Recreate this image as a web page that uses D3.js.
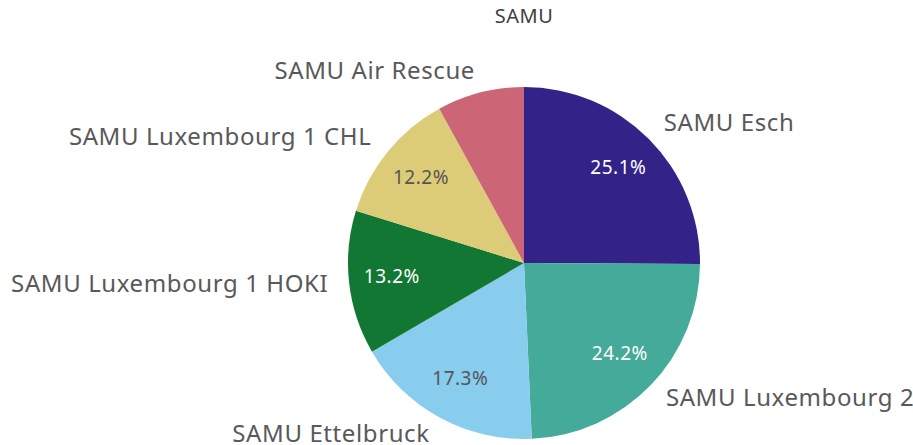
<!DOCTYPE html>
<html>
<head>
<meta charset="utf-8">
<script src="https://cdn.jsdelivr.net/npm/d3@7"></script>
<style>
  body { margin: 0; background: #fff; }
  svg { display: block; font-family: "Noto Sans", Roboto, sans-serif; }
</style>
</head>
<body>
<svg id="chart"></svg>
<script>
// Data (percent of total)
const categories = ["SAMU Esch", "SAMU Luxembourg 2", "SAMU Ettelbruck", "SAMU Luxembourg 1 HOKI", "SAMU Luxembourg 1 CHL", "SAMU Air Rescue"];
const values = [25.1, 24.2, 17.3, 13.2, 12.2, 8.0];
const colors = ["#332288", "#44aa99", "#88ccee", "#117733", "#ddcc77", "#cc6677"];
const labelColors = ["#ffffff", "#ffffff", "#555555", "#ffffff", "#555555", "#ffffff"];
const title = "SAMU";

const width = 913, height = 445;
const cx = 524, cy = 263, radius = 176;

const svg = d3.select("#chart")
    .attr("width", width)
    .attr("height", height);

// Title
svg.append("text")
    .attr("x", cx)
    .attr("y", 18)
    .attr("text-anchor", "middle")
    .attr("dominant-baseline", "middle")
    .style("font-size", "20px")
    .style("letter-spacing", "0.5px")
    .style("fill", "#404040")
    .text(title);

const data = categories.map((c, i) => ({ name: c, value: values[i], color: colors[i], lc: labelColors[i] }));

const pie = d3.pie().value(d => d.value).sort(null);
const arcs = pie(data);

const arc = d3.arc().innerRadius(0).outerRadius(radius);
const innerLabelArc = d3.arc().innerRadius(133).outerRadius(133);
const outerLabelArc = d3.arc().innerRadius(197).outerRadius(197);

const g = svg.append("g")
    .attr("transform", `translate(${cx},${cy})`);

g.selectAll("path.slice")
    .data(arcs)
    .join("path")
    .attr("class", "slice")
    .attr("d", arc)
    .attr("fill", d => d.data.color);

// Percent labels inside (small slices get none)
g.selectAll("text.pct")
    .data(arcs.filter(d => d.data.value >= 10))
    .join("text")
    .attr("class", "pct")
    .attr("transform", d => `translate(${innerLabelArc.centroid(d)})`)
    .attr("text-anchor", "middle")
    .attr("dominant-baseline", "middle")
    .style("font-size", "19px")
    .style("letter-spacing", "0.5px")
    .style("fill", d => d.data.lc)
    .text(d => d.data.value.toFixed(1) + "%");

// Category labels outside
g.selectAll("text.cat")
    .data(arcs)
    .join("text")
    .attr("class", "cat")
    .attr("transform", d => `translate(${outerLabelArc.centroid(d)})`)
    .attr("text-anchor", d => (d.startAngle + d.endAngle) / 2 < Math.PI ? "start" : "end")
    .attr("dominant-baseline", "middle")
    .style("font-size", "24px")
    .style("letter-spacing", "0.6px")
    .style("fill", "#595959")
    .text(d => d.data.name);
</script>
</body>
</html>
